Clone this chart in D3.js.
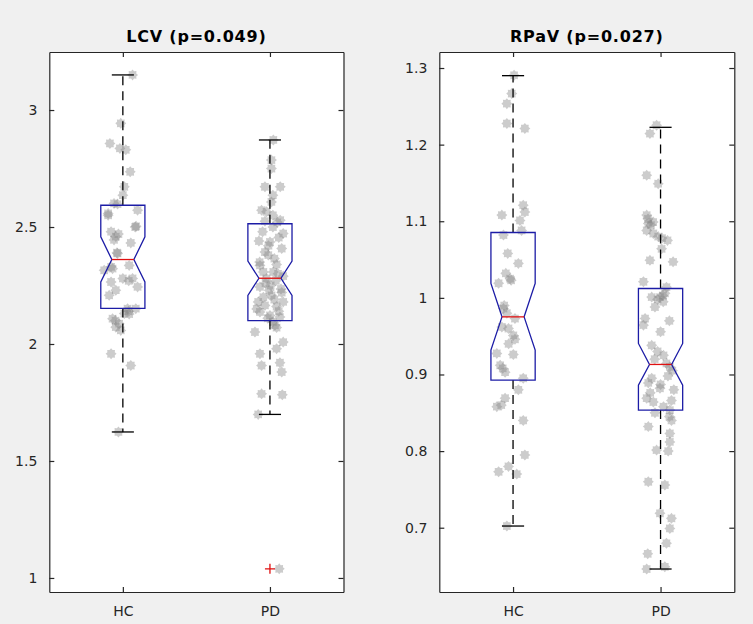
<!DOCTYPE html>
<html><head><meta charset="utf-8">
<script src="https://cdn.jsdelivr.net/npm/d3@7"></script>
<style>
html,body{margin:0;padding:0;background:#f0f0f0;}
svg{display:block;}
</style></head>
<body>
<svg id="chart" width="753" height="624"></svg>
<script>
// ---------- data ----------
const groups = ["HC", "PD"];

// LCV panel
const lcvTitle = "LCV (p=0.049)";
const lcvTicks = [1, 1.5, 2, 2.5, 3];
const lcvTickLabels = ["1", "1.5", "2", "2.5", "3"];
const lcvQ1 = [2.152, 2.100];
const lcvMedian = [2.361, 2.281];
const lcvQ3 = [2.593, 2.514];
const lcvNotchLo = [2.265, 2.208];
const lcvNotchHi = [2.458, 2.354];
const lcvWhiskerLo = [1.624, 1.699];
const lcvWhiskerHi = [3.150, 2.872];
const lcvOutliers = [[], [1.039]];
const lcvHCValues = [3.150, 2.943, 2.857, 2.836, 2.830, 2.736, 2.672, 2.636, 2.601, 2.598, 2.558, 2.572, 2.500, 2.480, 2.459, 2.432, 2.387, 2.322, 2.336, 2.315, 2.280, 2.280, 2.270, 2.265, 2.230, 2.244, 2.208, 2.151, 2.151, 2.130, 2.128, 2.108, 2.087, 2.072, 2.058, 1.958, 1.908, 1.624, 2.550, 2.503, 2.390, 2.330, 2.140, 2.100, 2.445, 2.470];
const lcvHCJitter = [0.066, -0.014, -0.088, -0.020, 0.020, 0.050, 0.010, 0.000, -0.060, -0.036, -0.100, 0.100, 0.084, -0.080, -0.048, 0.054, -0.036, -0.070, 0.043, -0.127, 0.000, 0.066, 0.040, -0.080, -0.048, 0.100, -0.093, 0.032, 0.088, 0.010, 0.043, -0.070, -0.025, -0.048, -0.014, -0.080, 0.054, -0.030, -0.100, 0.090, -0.040, -0.080, 0.040, -0.050, -0.060, -0.030];
const lcvPDValues = [2.872, 2.786, 2.750, 2.672, 2.672, 2.636, 2.607, 2.572, 2.565, 2.550, 2.529, 2.525, 2.500, 2.472, 2.436, 2.408, 2.393, 2.380, 2.336, 2.340, 2.308, 2.308, 2.280, 2.290, 2.244, 2.208, 2.220, 2.180, 2.165, 2.160, 2.180, 2.137, 2.122, 2.115, 2.080, 2.070, 2.051, 2.008, 1.980, 1.958, 1.920, 1.908, 1.880, 1.787, 1.783, 1.699, 1.039, 2.480, 2.455, 2.420, 2.365, 2.350, 2.300, 2.260, 2.250, 2.235, 2.200, 2.190, 2.150, 2.140, 2.110, 2.095, 2.520, 2.440, 2.270, 2.230];
const lcvPDJitter = [0.023, 0.010, 0.010, -0.034, 0.070, 0.020, 0.010, -0.057, -0.023, 0.020, 0.070, -0.034, 0.020, 0.090, 0.000, 0.080, -0.034, -0.011, -0.068, 0.045, -0.045, 0.023, -0.023, 0.090, -0.068, 0.011, 0.080, -0.080, -0.034, 0.045, 0.090, -0.068, 0.000, 0.068, 0.034, 0.045, -0.102, 0.090, 0.045, -0.068, 0.068, -0.057, 0.080, -0.057, 0.084, -0.080, 0.063, -0.050, 0.060, -0.010, 0.030, -0.070, 0.055, -0.030, 0.005, 0.075, -0.045, 0.030, -0.090, 0.060, -0.015, 0.020, 0.050, -0.075, 0.040, -0.005];

// RPaV panel
const rpTitle = "RPaV (p=0.027)";
const rpTicks = [0.7, 0.8, 0.9, 1.0, 1.1, 1.2, 1.3];
const rpTickLabels = ["0.7", "0.8", "0.9", "1", "1.1", "1.2", "1.3"];
const rpQ1 = [0.8927, 0.8535];
const rpMedian = [0.9752, 0.9131];
const rpQ3 = [1.0853, 1.0122];
const rpNotchLo = [0.9318, 0.8860];
const rpNotchHi = [1.0188, 0.9405];
const rpWhiskerLo = [0.7022, 0.6461];
const rpWhiskerHi = [1.2900, 1.2226];
const rpOutliers = [[], []];
const rpHCValues = [1.2905, 1.2666, 1.2535, 1.2275, 1.2210, 1.1210, 1.1120, 1.1080, 1.1010, 1.0880, 1.0820, 1.0580, 1.0450, 1.0320, 1.0230, 1.0190, 0.9860, 0.9800, 0.9730, 0.9620, 0.9600, 0.9510, 0.9460, 0.9275, 0.9260, 0.9120, 0.9030, 0.8950, 0.8800, 0.8690, 0.8580, 0.8400, 0.7950, 0.7730, 0.7800, 0.7700, 0.7022, 1.0250, 0.9400, 0.9080, 0.8600, 0.9900];
const rpHCJitter = [0.007, -0.009, -0.042, -0.042, 0.080, 0.069, 0.080, -0.076, 0.047, 0.058, -0.065, -0.036, 0.036, -0.049, -0.013, -0.098, -0.065, -0.042, 0.013, -0.076, -0.031, 0.002, 0.013, -0.110, 0.002, -0.087, -0.054, 0.069, 0.036, -0.054, -0.110, 0.069, 0.080, -0.098, -0.031, 0.025, -0.042, -0.020, -0.030, -0.070, -0.080, -0.060];
const rpPDValues = [1.2253, 1.2144, 1.1600, 1.1490, 1.1080, 1.0970, 1.0840, 1.0800, 1.0880, 1.0750, 1.0640, 1.0490, 1.0470, 1.0210, 1.0140, 1.0010, 1.0010, 0.9950, 0.9880, 0.9730, 0.9644, 0.9557, 0.9380, 0.9144, 0.9100, 0.8950, 0.8890, 0.8820, 0.8690, 0.8640, 0.8660, 0.8535, 0.8500, 0.8320, 0.8400, 0.8230, 0.8120, 0.8013, 0.8000, 0.7600, 0.7557, 0.7188, 0.7122, 0.6990, 0.6797, 0.6660, 0.6461, 0.6490, 1.0990, 1.0780, 1.0060, 0.9980, 0.9250, 0.9200, 0.9050, 0.8980, 0.8870, 0.8760, 0.8580, 0.8450, 0.9300, 0.9700, 0.8800, 1.1030, 1.0950, 1.0030];
const rpPDJitter = [-0.027, -0.072, -0.094, -0.016, -0.094, -0.083, -0.049, -0.016, -0.094, 0.047, 0.007, -0.072, 0.085, -0.116, 0.040, -0.060, -0.004, 0.018, -0.038, -0.105, -0.116, 0.000, -0.060, 0.040, 0.063, -0.060, -0.083, -0.004, -0.094, -0.049, 0.074, 0.063, -0.038, -0.083, 0.074, 0.063, 0.063, -0.027, 0.052, -0.083, 0.029, -0.004, 0.074, 0.063, 0.040, -0.087, -0.094, 0.029, -0.050, 0.010, 0.030, -0.020, 0.020, -0.040, 0.080, 0.050, 0.000, -0.070, 0.020, 0.060, -0.020, 0.060, 0.090, -0.085, -0.065, 0.015];

// ---------- drawing ----------
const svg = d3.select("#chart");
const axisColor = "#262626";
const font = "'DejaVu Sans', sans-serif";

// star-like marker path
const starPts = d3.range(16).map(i => {
  const a = i * Math.PI / 8;
  const r = i % 2 === 0 ? 5.5 : 4.0;
  return [a, r];
});
const starPath = d3.lineRadial().curve(d3.curveLinearClosed)(starPts);

function panel(cfg) {
  const g = svg.append("g");
  const x = d3.scaleLinear().domain([0.5, 2.5]).range([cfg.left, cfg.right]);
  const y = d3.scaleLinear().domain(cfg.domain).range([cfg.bottom, cfg.top]);

  g.append("rect").attr("x", cfg.left).attr("y", cfg.top)
    .attr("width", cfg.right - cfg.left).attr("height", cfg.bottom - cfg.top)
    .attr("fill", "#ffffff");

  // jittered points
  cfg.points.forEach((pts, gi) => {
    g.append("g").selectAll("path").data(pts.values).join("path")
      .attr("d", starPath)
      .attr("transform", (v, i) => `translate(${x(gi + 1 + pts.jitter[i])},${y(v)})`)
      .attr("fill", "#808080").attr("fill-opacity", 0.4);
  });

  const hw = 0.15, nw = 0.075;
  groups.forEach((name, i) => {
    const c = i + 1;
    // whiskers
    g.append("line").attr("x1", x(c)).attr("x2", x(c))
      .attr("y1", y(cfg.q3[i])).attr("y2", y(cfg.whHi[i]))
      .attr("stroke", "#000").attr("stroke-width", 1.3).attr("stroke-dasharray", "9,6");
    g.append("line").attr("x1", x(c)).attr("x2", x(c))
      .attr("y1", y(cfg.q1[i])).attr("y2", y(cfg.whLo[i]))
      .attr("stroke", "#000").attr("stroke-width", 1.3).attr("stroke-dasharray", "9,6");
    [cfg.whHi[i], cfg.whLo[i]].forEach(v => {
      g.append("line").attr("x1", x(c - nw)).attr("x2", x(c + nw))
        .attr("y1", y(v)).attr("y2", y(v))
        .attr("stroke", "#000").attr("stroke-width", 1.3);
    });
    // notched box
    const poly = [
      [c - hw, cfg.q3[i]], [c + hw, cfg.q3[i]], [c + hw, cfg.nHi[i]],
      [c + nw, cfg.med[i]], [c + hw, cfg.nLo[i]], [c + hw, cfg.q1[i]],
      [c - hw, cfg.q1[i]], [c - hw, cfg.nLo[i]], [c - nw, cfg.med[i]],
      [c - hw, cfg.nHi[i]]
    ];
    g.append("path")
      .attr("d", d3.line().x(d => x(d[0])).y(d => y(d[1])).curve(d3.curveLinearClosed)(poly))
      .attr("fill", "none").attr("stroke", "#1c1ca6").attr("stroke-width", 1.3);
    g.append("line").attr("x1", x(c - nw)).attr("x2", x(c + nw))
      .attr("y1", y(cfg.med[i])).attr("y2", y(cfg.med[i]))
      .attr("stroke", "#e01010").attr("stroke-width", 1.3);
    // outliers
    cfg.outliers[i].forEach(v => {
      g.append("path")
        .attr("d", `M${x(c) - 5},${y(v)}H${x(c) + 5}M${x(c)},${y(v) - 5}V${y(v) + 5}`)
        .attr("stroke", "#e01010").attr("stroke-width", 1.3);
    });
  });

  // axes
  const yAxisL = d3.axisLeft(y).tickValues(cfg.ticks).tickFormat((d, i) => cfg.tickLabels[i]).tickSizeInner(-5).tickSizeOuter(0).tickPadding(12);
  const yAxisR = d3.axisRight(y).tickValues(cfg.ticks).tickFormat("").tickSizeInner(-5).tickSizeOuter(0);
  const xAxisB = d3.axisBottom(x).tickValues([1, 2]).tickFormat((d, i) => groups[i]).tickSizeInner(-5).tickSizeOuter(0).tickPadding(14);
  const xAxisT = d3.axisTop(x).tickValues([1, 2]).tickFormat("").tickSizeInner(-5).tickSizeOuter(0);

  const styleAxis = sel => {
    sel.selectAll("path.domain").attr("stroke", axisColor).attr("stroke-width", 1.2);
    sel.selectAll(".tick line").attr("stroke", axisColor).attr("stroke-width", 1.2);
    sel.selectAll(".tick text").attr("fill", axisColor).style("font-family", font).style("font-size", "14px");
  };
  g.append("g").attr("transform", `translate(${cfg.left},0)`).call(yAxisL).call(styleAxis);
  g.append("g").attr("transform", `translate(${cfg.right},0)`).call(yAxisR).call(styleAxis);
  g.append("g").attr("transform", `translate(0,${cfg.bottom})`).call(xAxisB).call(styleAxis);
  g.append("g").attr("transform", `translate(0,${cfg.top})`).call(xAxisT).call(styleAxis);

  g.append("text").attr("x", (cfg.left + cfg.right) / 2).attr("y", 42)
    .attr("text-anchor", "middle").attr("fill", "#000")
    .style("font-family", font).style("font-weight", "bold").style("font-size", "16px")
    .style("letter-spacing", "0.8px")
    .text(cfg.title);
}

panel({
  left: 49.3, right: 343.5, top: 52, bottom: 592,
  domain: [0.94, 3.248], ticks: lcvTicks, tickLabels: lcvTickLabels, title: lcvTitle,
  q1: lcvQ1, med: lcvMedian, q3: lcvQ3, nLo: lcvNotchLo, nHi: lcvNotchHi,
  whLo: lcvWhiskerLo, whHi: lcvWhiskerHi, outliers: lcvOutliers,
  points: [{values: lcvHCValues, jitter: lcvHCJitter}, {values: lcvPDValues, jitter: lcvPDJitter}]
});
panel({
  left: 439.3, right: 734.3, top: 52, bottom: 592,
  domain: [0.6161, 1.3209], ticks: rpTicks, tickLabels: rpTickLabels, title: rpTitle,
  q1: rpQ1, med: rpMedian, q3: rpQ3, nLo: rpNotchLo, nHi: rpNotchHi,
  whLo: rpWhiskerLo, whHi: rpWhiskerHi, outliers: rpOutliers,
  points: [{values: rpHCValues, jitter: rpHCJitter}, {values: rpPDValues, jitter: rpPDJitter}]
});
</script>
</body></html>
